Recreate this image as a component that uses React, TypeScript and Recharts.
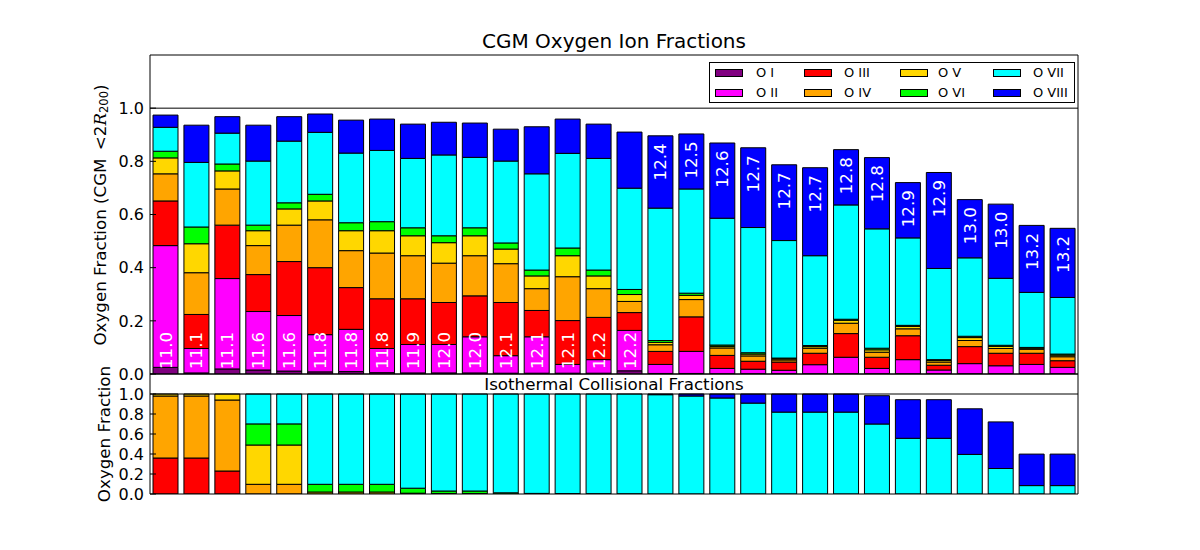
import React from 'react';
import { BarChart, Bar, XAxis, YAxis, ReferenceLine, LabelList } from 'recharts';

// halo mass labels (log M) for each of the 30 halos
const haloMass = ['11.0','11.1','11.1','11.6','11.6','11.8','11.8','11.8','11.9','12.0','12.0','12.1','12.1','12.1','12.2','12.2','12.4','12.5','12.6','12.7','12.7','12.7','12.8','12.8','12.9','12.9','13.0','13.0','13.2','13.2'];

// CGM ion fractions (top panel)
const cgmOI = [0.025,0.004,0.019,0.015,0.011,0.008,0.009,0.005,0.004,0.004,0.004,0.003,0.003,0.003,0.003,0.012,0.002,0.002,0.001,0.001,0.001,0.001,0.001,0.001,0.001,0.001,0.001,0.001,0.001,0.001];
const cgmOII = [0.458,0.092,0.340,0.220,0.209,0.140,0.159,0.091,0.107,0.107,0.136,0.066,0.137,0.033,0.051,0.152,0.034,0.083,0.020,0.017,0.013,0.034,0.062,0.020,0.053,0.014,0.038,0.030,0.035,0.024];
const cgmOIII = [0.168,0.128,0.201,0.139,0.203,0.252,0.157,0.187,0.172,0.158,0.154,0.200,0.099,0.165,0.159,0.067,0.049,0.130,0.049,0.030,0.031,0.043,0.089,0.042,0.090,0.018,0.064,0.047,0.042,0.025];
const cgmOIV = [0.102,0.157,0.136,0.109,0.137,0.180,0.139,0.172,0.162,0.148,0.151,0.146,0.082,0.165,0.108,0.042,0.025,0.065,0.028,0.020,0.008,0.019,0.039,0.019,0.026,0.012,0.023,0.018,0.015,0.015];
const cgmOV = [0.060,0.109,0.068,0.056,0.061,0.071,0.075,0.084,0.075,0.077,0.075,0.055,0.048,0.079,0.048,0.026,0.009,0.016,0.006,0.007,0.004,0.006,0.011,0.009,0.009,0.006,0.011,0.008,0.004,0.006];
const cgmOVI = [0.025,0.063,0.026,0.021,0.023,0.025,0.030,0.034,0.030,0.026,0.030,0.023,0.022,0.029,0.022,0.019,0.007,0.008,0.005,0.005,0.003,0.004,0.004,0.006,0.004,0.003,0.005,0.004,0.003,0.004];
const cgmOVII = [0.090,0.243,0.116,0.241,0.232,0.233,0.262,0.268,0.261,0.304,0.265,0.308,0.362,0.356,0.420,0.381,0.498,0.392,0.477,0.471,0.442,0.338,0.430,0.449,0.329,0.343,0.295,0.252,0.207,0.213];
const cgmOVIII = [0.046,0.140,0.062,0.135,0.092,0.069,0.124,0.118,0.129,0.123,0.129,0.120,0.177,0.129,0.129,0.211,0.272,0.207,0.283,0.300,0.285,0.331,0.208,0.268,0.208,0.361,0.219,0.279,0.252,0.260];

// Isothermal collisional fractions (bottom panel)
const isoOI = [0,0,0,0,0,0,0,0,0,0,0,0,0,0,0,0,0,0,0,0,0,0,0,0,0,0,0,0,0,0];
const isoOII = [0,0,0,0,0,0,0,0,0,0,0,0,0,0,0,0,0,0,0,0,0,0,0,0,0,0,0,0,0,0];
const isoOIII = [0.36,0.36,0.23,0,0,0,0,0,0,0,0,0,0,0,0,0,0,0,0,0,0,0,0,0,0,0,0,0,0,0];
const isoOIV = [0.62,0.62,0.71,0.097,0.097,0,0,0,0,0,0,0,0,0,0,0,0,0,0,0,0,0,0,0,0,0,0,0,0,0];
const isoOV = [0.02,0.02,0.06,0.393,0.393,0.02,0.02,0.02,0.008,0.004,0.004,0,0,0,0,0,0,0,0,0,0,0,0,0,0,0,0,0,0,0];
const isoOVI = [0,0,0,0.211,0.211,0.077,0.077,0.077,0.05,0.026,0.026,0.012,0.006,0.004,0.003,0.002,0,0,0,0,0,0,0,0,0,0,0,0,0,0];
const isoOVII = [0,0,0,0.299,0.299,0.903,0.903,0.903,0.942,0.97,0.97,0.988,0.994,0.996,0.997,0.998,0.993,0.98,0.96,0.909,0.819,0.819,0.819,0.70,0.557,0.557,0.396,0.255,0.084,0.084];
const isoOVIII = [0,0,0,0,0,0,0,0,0,0,0,0,0,0,0,0,0.007,0.02,0.04,0.091,0.181,0.181,0.181,0.283,0.386,0.386,0.456,0.466,0.315,0.315];

const ionNames = ['O I','O II','O III','O IV','O V','O VI','O VII','O VIII'];
const ionKeys = ['o1','o2','o3','o4','o5','o6','o7','o8'];
const ionColors = ['#800080','#ff00ff','#ff0000','#ffa500','#ffd700','#00ff00','#00ffff','#0000ff'];
const yTicks = [0, 0.2, 0.4, 0.6, 0.8, 1.0];
const xTicks = [0, 5, 10, 15, 20, 25, 30];

const cgmSeries = [cgmOI, cgmOII, cgmOIII, cgmOIV, cgmOV, cgmOVI, cgmOVII, cgmOVIII];
const isoSeries = [isoOI, isoOII, isoOIII, isoOIV, isoOV, isoOVI, isoOVII, isoOVIII];

const build = (series: number[][]) =>
  haloMass.map((m, i) => {
    const row: any = { idx: i, mass: m };
    ionKeys.forEach((k, j) => { row[k] = series[j][i]; });
    return row;
  });

const cgmData = build(cgmSeries);
const isoData = build(isoSeries);

const FONT = "'DejaVu Sans', sans-serif";
const N_BOTTOM = 16;

const bottomLabel = (props: any) => {
  const vb = props.viewBox || props;
  const x = Number(props.x ?? vb.x), y = Number(props.y ?? vb.y);
  const w = Number(props.width ?? vb.width), h = Number(props.height ?? vb.height);
  const index = props.index;
  if (index >= N_BOTTOM) return null;
  const cx = x + w / 2;
  const y0 = y + h - 5;
  return (
    <text x={cx} y={y0} transform={`rotate(-90 ${cx} ${y0})`} textAnchor="start" dominantBaseline="central" fill="#fff" fontSize={16.7} fontFamily={FONT}>
      {haloMass[index]}
    </text>
  );
};

const topLabel = (props: any) => {
  const vb = props.viewBox || props;
  const x = Number(props.x ?? vb.x), y = Number(props.y ?? vb.y);
  const w = Number(props.width ?? vb.width);
  const index = props.index;
  if (index < N_BOTTOM) return null;
  const cx = x + w / 2;
  const y0 = y + 7.5;
  return (
    <text x={cx} y={y0} transform={`rotate(-90 ${cx} ${y0})`} textAnchor="end" dominantBaseline="central" fill="#fff" fontSize={16.7} fontFamily={FONT}>
      {haloMass[index]}
    </text>
  );
};

const tickStyle = { fill: '#000', fontSize: 16, fontFamily: FONT };
const spine = { stroke: '#000', strokeWidth: 1 };

const Panel = ({ data, height, margin, labels }: any) => (
  <BarChart width={1200} height={height} data={data} margin={margin} barSize={25}>
    <XAxis xAxisId="c" dataKey="idx" type="category" hide />
    <XAxis xAxisId="t" type="number" orientation="top" domain={[0, 30]} ticks={xTicks} tick={false} tickSize={-6} height={1} axisLine={spine} tickLine={spine} allowDataOverflow />
    <XAxis xAxisId="b" type="number" orientation="bottom" domain={[0, 30]} ticks={xTicks} tick={false} tickSize={-6} height={1} axisLine={spine} tickLine={spine} allowDataOverflow />
    <YAxis yAxisId="l" domain={[0, 1.2]} ticks={yTicks} interval={0} width={60} tickSize={-6} tickMargin={12} tick={tickStyle} tickFormatter={(v: number) => v.toFixed(1)} axisLine={spine} tickLine={spine} allowDataOverflow />
    <YAxis yAxisId="r" orientation="right" domain={[0, 1.2]} ticks={yTicks} interval={0} width={1} tick={false} tickSize={-6} axisLine={spine} tickLine={spine} allowDataOverflow />
    <ReferenceLine xAxisId="c" yAxisId="l" y={1} stroke="#000" strokeWidth={1} />
    {ionKeys.map((k, j) => (
      <Bar key={k} xAxisId="c" yAxisId="l" dataKey={k} stackId="s" fill={ionColors[j]} stroke="#000" strokeWidth={1} isAnimationActive={false}>
        {labels && j === 0 && <LabelList dataKey="mass" content={bottomLabel} />}
        {labels && j === 7 && <LabelList dataKey="mass" content={topLabel} />}
      </Bar>
    ))}
  </BarChart>
);

const Legend = () => (
  <div style={{ position: 'absolute', left: 709, top: 62, width: 366, height: 41, border: '1px solid #000', background: '#fff', boxSizing: 'border-box', fontFamily: FONT, fontSize: 13 }}>
    {ionNames.map((n, j) => {
      const col = Math.floor(j / 2);
      const row = j % 2;
      const sx = [5, 94, 190, 283][col];
      const tx = [46, 134, 228, 323][col];
      const cy = row === 0 ? 10 : 30;
      return (
        <React.Fragment key={n}>
          <div style={{ position: 'absolute', left: sx, top: cy - 4, width: 28, height: 8, background: ionColors[j], border: '1px solid #000', boxSizing: 'border-box' }} />
          <div style={{ position: 'absolute', left: tx, top: cy - 8, lineHeight: '16px', whiteSpace: 'nowrap', color: '#000' }}>{n}</div>
        </React.Fragment>
      );
    })}
  </div>
);

export default function App() {
  return (
    <div style={{ position: 'absolute', left: 0, top: 0, width: 1200, height: 550, background: '#fff', overflow: 'hidden' }}>
      <div style={{ position: 'absolute', left: 0, top: 360 }}>
        <Panel data={isoData} height={150} margin={{ top: 13, right: 121, bottom: 15, left: 90 }} labels={false} />
      </div>
      <div style={{ position: 'absolute', left: 0, top: 0 }}>
        <Panel data={cgmData} height={392} margin={{ top: 54, right: 121, bottom: 17, left: 90 }} labels />
      </div>
      <Legend />
      <svg width={1200} height={550} style={{ position: 'absolute', left: 0, top: 0, pointerEvents: 'none' }}>
        <text x={614} y={48} textAnchor="middle" fontSize={20} fontFamily={FONT} fill="#000">CGM Oxygen Ion Fractions</text>
        <text x={614} y={390} textAnchor="middle" fontSize={16.7} fontFamily={FONT} fill="#000">Isothermal Collisional Fractions</text>
        <text x={100} y={215} transform="rotate(-90 100 215)" textAnchor="middle" dominantBaseline="central" fontSize={16.7} fontFamily={FONT} fill="#000">
          Oxygen Fraction (CGM{'\u2002'}&lt;2<tspan fontStyle="italic" fontFamily="'DejaVu Serif', serif">R</tspan><tspan fontSize={11.5} dy={4}>200</tspan><tspan dy={-4}>)</tspan>
        </text>
        <text x={104} y={434} transform="rotate(-90 104 434)" textAnchor="middle" dominantBaseline="central" fontSize={16.7} fontFamily={FONT} fill="#000">Oxygen Fraction</text>
      </svg>
    </div>
  );
}
